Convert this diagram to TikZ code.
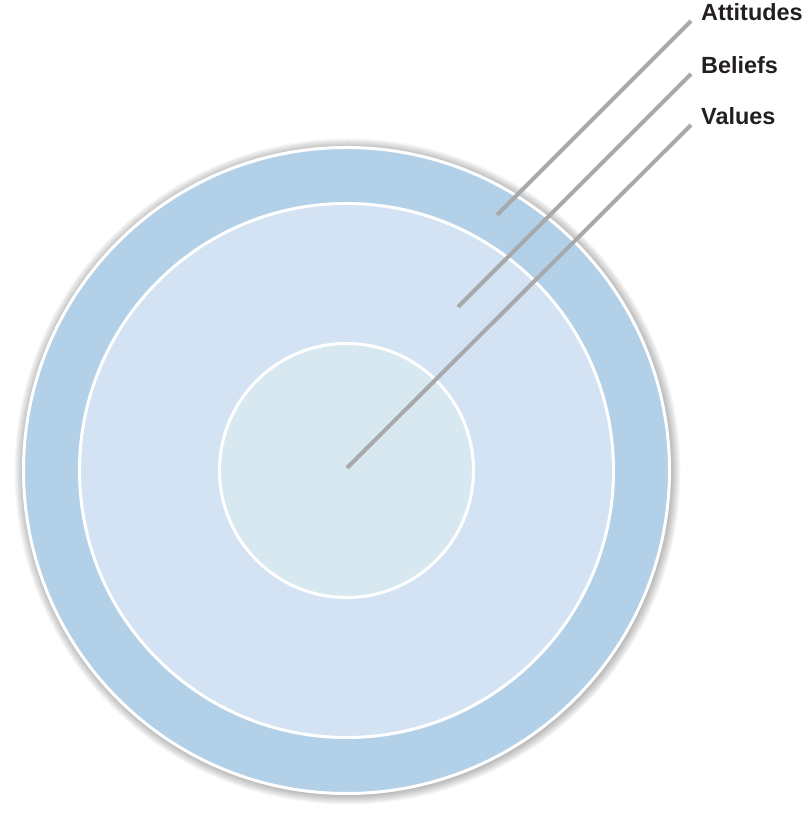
\documentclass[tikz,border=0pt]{standalone}
\usepackage{fontspec}
\setmainfont{Liberation Sans}
\usepackage{tikz}
\usetikzlibrary{positioning}
\definecolor{ringout}{HTML}{B2D0E7}
\definecolor{ringmid}{HTML}{D3E3F3}
\definecolor{ringin}{HTML}{D8E8F0}
\definecolor{leader}{HTML}{A8A9AB}
\definecolor{labeltext}{HTML}{231F20}
\tikzset{
	ring/.style={circle,draw=white,line width=3bp,inner sep=0pt},
	lbl/.style={anchor=base west,inner sep=0pt,inner xsep=10bp,font=\fontsize{23.5}{28}\selectfont\bfseries,text=labeltext},
	leadline/.style={draw=leader,line width=4bp},
}

\begin{document}
\begin{tikzpicture}[x=1bp,y=1bp]
	\useasboundingbox (0,0) rectangle (804,816);
	\coordinate (c) at (346.5,345.5);
	\foreach \i in {1,...,10}
		\fill[black,opacity=0.03] ([xshift=1bp,yshift=-1bp]c) circle ({(323+\i)*1bp});
	\node[ring,fill=ringout,minimum size=646bp] (outer) at (c) {};
	\node[ring,fill=ringmid,minimum size=534bp] (middle) at (c) {};
	\node[ring,fill=ringin,minimum size=254bp] (inner) at (c) {};
	\coordinate (aend) at (497,601);
	\coordinate (bend) at (458,509);
	\coordinate (vend) at (347,348);
	\node[lbl] (attitudes) at (691,795) {Attitudes};
	\node[lbl] (beliefs) at (691,742) {Beliefs};
	\node[lbl] (values) at (691,691) {Values};
	\draw[leadline] (aend) -- (attitudes.base west);
	\draw[leadline] (bend) -- (beliefs.base west);
	\draw[leadline] (vend) -- (values.base west);
\end{tikzpicture}
\end{document}
